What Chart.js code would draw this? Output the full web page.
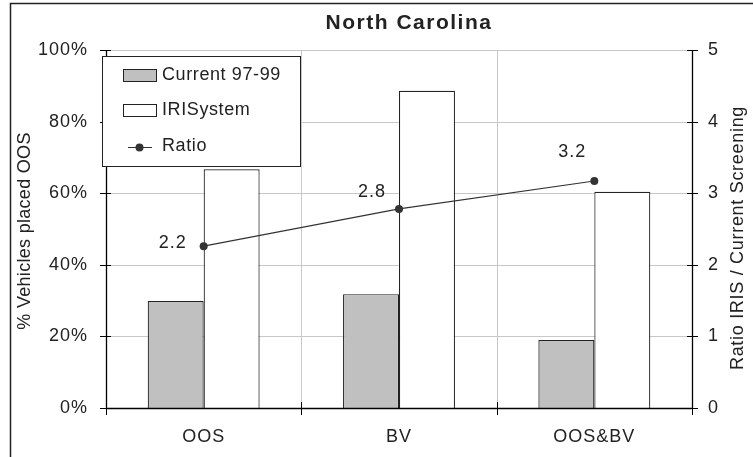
<!DOCTYPE html>
<html lang="en">
<head>
<meta charset="utf-8">
<title>North Carolina</title>
<script src="https://cdn.jsdelivr.net/npm/chart.js"></script>
<style>
  body { margin: 0; background: #fff; }
</style>
</head>
<body>
<canvas id="myChart" width="753" height="457"></canvas>
<script>
// data
const categories = ['OOS', 'BV', 'OOS&BV'];
const current9799 = [29.9, 31.8, 19.0];
const iriSystem = [66.7, 88.6, 60.4];
const ratio = [2.26, 2.78, 3.17];
const ratioLabels = ['2.2', '2.8', '3.2'];
const seriesNames = ['Current 97-99', 'IRISystem', 'Ratio'];
const percentTicks = [0, 20, 40, 60, 80, 100];
const ratioTicks = [0, 1, 2, 3, 4, 5];

const FONT = "'Liberation Sans', Arial, sans-serif";
const INK = '#222';
const GRID = '#c8c8c8';

// where each ratio label sits relative to its point
const labelOffsets = [[-31, -3], [-27, -17], [-22, -29]];

function txt(ctx, s, x, y, size, opts) {
    opts = opts || {};
    ctx.save();
    ctx.font = (opts.bold ? 'bold ' : '') + size + 'px ' + FONT;
    ctx.letterSpacing = (opts.spacing || 0) + 'px';
    ctx.fillStyle = INK;
    ctx.textAlign = opts.align || 'center';
    ctx.textBaseline = 'middle';
    ctx.translate(x, y);
    if (opts.rot) ctx.rotate(opts.rot);
    ctx.fillText(s, 0, 0);
    ctx.restore();
}

function catEdges(sx) {
    const step = sx.getPixelForValue(1) - sx.getPixelForValue(0);
    const out = [];
    for (let i = 0; i <= categories.length; i++) out.push(Math.round(sx.getPixelForValue(i) - step / 2) + 0.5);
    return out;
}

const decor = {
    id: 'decor',
    beforeDraw(chart) {
        const ctx = chart.ctx;
        ctx.save();
        ctx.fillStyle = '#fff';
        ctx.fillRect(0, 0, chart.width, chart.height);
        ctx.restore();
        ctx.letterSpacing = '1px';
    },
    beforeDatasetsDraw(chart) {
        // light grid inside the plot
        const ctx = chart.ctx;
        const a = chart.chartArea;
        const sx = chart.scales.x, sy = chart.scales.y;
        ctx.save();
        ctx.strokeStyle = GRID;
        ctx.lineWidth = 1;
        ctx.beginPath();
        sy.ticks.forEach(t => {
            const y = Math.round(sy.getPixelForValue(t.value)) + 0.5;
            ctx.moveTo(a.left, y); ctx.lineTo(a.right, y);
        });
        catEdges(sx).forEach(x => {
            ctx.moveTo(x, a.top); ctx.lineTo(x, a.bottom);
        });
        ctx.stroke();
        ctx.restore();
    },
    afterDraw(chart) {
        const ctx = chart.ctx;
        const a = chart.chartArea;
        const sx = chart.scales.x, sy = chart.scales.y, sy1 = chart.scales.y1;

        // axis lines and crossing tick marks
        ctx.save();
        ctx.strokeStyle = '#000';
        ctx.lineWidth = 1;
        ctx.beginPath();
        sy.ticks.forEach(t => {
            const y = Math.round(sy.getPixelForValue(t.value)) + 0.5;
            ctx.moveTo(a.left - 6, y); ctx.lineTo(a.left + 5, y);
        });
        sy1.ticks.forEach(t => {
            const y = Math.round(sy1.getPixelForValue(t.value)) + 0.5;
            ctx.moveTo(a.right - 5, y); ctx.lineTo(a.right + 6, y);
        });
        catEdges(sx).forEach(x => {
            ctx.moveTo(x, a.bottom - 6); ctx.lineTo(x, a.bottom + 7);
        });
        ctx.stroke();
        ctx.lineWidth = 1.3;
        ctx.beginPath();
        ctx.moveTo(Math.round(a.left) + 0.5, a.top); ctx.lineTo(Math.round(a.left) + 0.5, a.bottom);
        ctx.moveTo(Math.round(a.right) + 0.5, a.top); ctx.lineTo(Math.round(a.right) + 0.5, a.bottom);
        ctx.moveTo(a.left, Math.round(a.bottom) + 0.5); ctx.lineTo(a.right, Math.round(a.bottom) + 0.5);
        ctx.stroke();
        ctx.restore();

        // ratio value labels
        chart.getDatasetMeta(2).data.forEach((p, i) => {
            txt(ctx, ratioLabels[i], p.x + labelOffsets[i][0], p.y + labelOffsets[i][1], 18, {spacing: 1});
        });

        // title + axis titles
        txt(ctx, 'North Carolina', 409, 23, 21, {bold: true, spacing: 1.5});
        txt(ctx, '% Vehicles placed OOS', 25, 231, 18, {spacing: 0.3, rot: -Math.PI / 2});
        txt(ctx, 'Ratio IRIS / Current Screening', 738, 238, 18, {spacing: 0.7, rot: -Math.PI / 2});

        // legend box
        ctx.save();
        ctx.fillStyle = '#fff';
        ctx.fillRect(102.5, 56.5, 198, 110);
        ctx.strokeStyle = INK;
        ctx.lineWidth = 1;
        ctx.strokeRect(102.5, 56.5, 198, 110);
        const ds = chart.data.datasets;
        ctx.fillStyle = ds[0].backgroundColor;
        ctx.fillRect(123.5, 69.5, 33, 12);
        ctx.strokeRect(123.5, 69.5, 33, 12);
        ctx.fillStyle = ds[1].backgroundColor;
        ctx.fillRect(123.5, 104.5, 33, 12);
        ctx.strokeRect(123.5, 104.5, 33, 12);
        ctx.strokeStyle = ds[2].borderColor;
        ctx.beginPath();
        ctx.moveTo(128, 147.5); ctx.lineTo(152, 147.5);
        ctx.stroke();
        ctx.fillStyle = ds[2].pointBackgroundColor;
        ctx.beginPath();
        ctx.arc(139.5, 147.5, 4, 0, Math.PI * 2);
        ctx.fill();
        ctx.restore();
        txt(ctx, seriesNames[0], 162, 75, 18, {align: 'left', spacing: 0.6});
        txt(ctx, seriesNames[1], 162, 110, 18, {align: 'left', spacing: 0.6});
        txt(ctx, seriesNames[2], 162, 146, 18, {align: 'left', spacing: 0.6});

        // outer frame
        ctx.save();
        ctx.strokeStyle = INK;
        ctx.lineWidth = 1.5;
        ctx.strokeRect(10.5, 3.5, 800, 500);
        ctx.restore();
    }
};

const ctx = document.getElementById('myChart').getContext('2d');
const chart = new Chart(ctx, {
    type: 'bar',
    data: {
        labels: categories,
        datasets: [{
            label: seriesNames[0],
            data: current9799,
            backgroundColor: '#c0c0c0',
            borderColor: INK,
            borderWidth: 1.2,
            categoryPercentage: 0.573,
            barPercentage: 1.0,
            yAxisID: 'y',
            order: 1
        }, {
            label: seriesNames[1],
            data: iriSystem,
            backgroundColor: '#ffffff',
            borderColor: INK,
            borderWidth: 1.2,
            categoryPercentage: 0.573,
            barPercentage: 1.0,
            yAxisID: 'y',
            order: 1
        }, {
            type: 'line',
            label: seriesNames[2],
            data: ratio,
            borderColor: '#333',
            borderWidth: 1.2,
            pointRadius: 4,
            pointBackgroundColor: '#333',
            pointBorderWidth: 0,
            tension: 0,
            yAxisID: 'y1',
            order: 0
        }]
    },
    options: {
        responsive: false,
        animation: false,
        devicePixelRatio: 1,
        layout: { padding: { top: 50, left: 0, right: 0, bottom: 0 } },
        plugins: {
            legend: { display: false },
            tooltip: { enabled: false },
            title: { display: false }
        },
        scales: {
            x: {
                afterFit: s => { s.height = 49; },
                grid: { display: false, drawTicks: false },
                border: { display: false },
                ticks: { color: INK, padding: 18, font: { family: FONT, size: 18 } }
            },
            y: {
                position: 'left',
                min: 0,
                max: 100,
                afterFit: s => { s.width = 106; },
                afterBuildTicks: s => { s.ticks = percentTicks.map(v => ({ value: v })); },
                grid: { display: false, drawTicks: false },
                border: { display: false },
                ticks: { color: INK, padding: 18, font: { family: FONT, size: 18 }, callback: v => v + '%' }
            },
            y1: {
                position: 'right',
                min: 0,
                max: 5,
                afterFit: s => { s.width = 61; },
                afterBuildTicks: s => { s.ticks = ratioTicks.map(v => ({ value: v })); },
                grid: { display: false, drawTicks: false },
                border: { display: false },
                ticks: { color: INK, padding: 16, font: { family: FONT, size: 18 } }
            }
        }
    },
    plugins: [decor]
});
</script>
</body>
</html>
